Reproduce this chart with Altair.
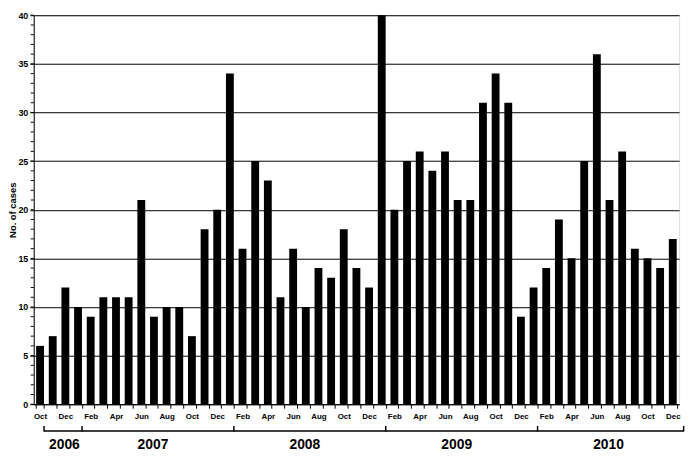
import altair as alt
import pandas as pd

month_names = ["Oct", "Nov", "Dec"] + ["Jan", "Feb", "Mar", "Apr", "May", "Jun",
                                       "Jul", "Aug", "Sep", "Oct", "Nov", "Dec"] * 4
years = [2006] * 3 + [2007] * 12 + [2008] * 12 + [2009] * 12 + [2010] * 12
cases = [6, 7, 12,
         10, 9, 11, 11, 11, 21, 9, 10, 10, 7, 18, 20,
         34, 16, 25, 23, 11, 16, 10, 14, 13, 18, 14, 12,
         40, 20, 25, 26, 24, 26, 21, 21, 31, 34, 31, 9,
         12, 14, 19, 15, 25, 36, 21, 26, 16, 15, 14, 17]
keys = [f"{m} {y}" for m, y in zip(month_names, years)]
labeled_keys = keys[::2]
year_labels = ["2006", "2007", "2008", "2009", "2010"]
year_label_anchor = ["Dec 2006", "Jul 2007", "Jul 2008", "Jul 2009", "Jul 2010"]
bracket_starts = ["Oct 2006", "Jan 2007", "Jan 2008", "Jan 2009", "Jan 2010"]
bracket_end = "Dec 2010"
major_ticks = list(range(0, 41, 5))
minor_ticks = list(range(0, 41, 1))

LEFT = 26
W, H = 652, 393
FONT = "Liberation Sans"

bars_df = pd.DataFrame({"key": keys, "cases": cases})
minor_df = pd.DataFrame({"v": minor_ticks})
line_df = pd.DataFrame({"key": [bracket_starts[0]], "key2": [bracket_end]})
start_df = pd.DataFrame({"key": bracket_starts})
end_df = pd.DataFrame({"key": [bracket_end]})
year_df = pd.DataFrame({"key": year_label_anchor, "label": year_labels})

label_list = "[" + ",".join(f"'{k}'" for k in labeled_keys) + "]"

xscale = alt.Scale(domain=keys, paddingInner=0.38, paddingOuter=0.19)
yscale = alt.Scale(domain=[0, 40], nice=False)

bars = alt.Chart(bars_df).mark_bar(color="black").encode(
    x=alt.X("key:N", scale=xscale, sort=keys, title=None,
            axis=alt.Axis(labelAngle=0, tickBand="extent", tickSize=4,
                          tickColor="black", domainColor="black",
                          labelFontSize=8, labelFontWeight="bold",
                          labelColor="black", labelPadding=4,
                          labelExpr="indexof(" + label_list + ", datum.value) >= 0 ? slice(datum.value, 0, 3) : ''")),
    y=alt.Y("cases:Q", scale=yscale, title="No. of cases",
            axis=alt.Axis(values=major_ticks, grid=True, gridColor="black",
                          gridOpacity=1, tickSize=4, tickColor="black",
                          domainColor="black", labelFontSize=9,
                          labelFontWeight="bold", labelColor="black",
                          labelPadding=2, titleFontSize=9.5,
                          titleFontWeight="bold", titleColor="black",
                          titleX=-(LEFT - 5), titleY=H / 2, titleAngle=270,
                          titleBaseline="middle", titleAlign="center")),
)

minor = alt.Chart(minor_df).mark_rule(color="black", strokeWidth=1).encode(
    y=alt.Y("v:Q", scale=yscale),
    x=alt.value(-3), x2=alt.value(0),
)

OFF = 8
hline = alt.Chart(line_df).mark_rule(color="black", strokeWidth=1.5, xOffset=OFF, x2Offset=OFF - 1).encode(
    x=alt.X("key:N", scale=xscale, sort=keys, bandPosition=0),
    x2=alt.X2("key2:N", bandPosition=1),
    y=alt.value(H + 27),
)
starts = alt.Chart(start_df).mark_rule(color="black", strokeWidth=1.5, xOffset=OFF).encode(
    x=alt.X("key:N", scale=xscale, sort=keys, bandPosition=0),
    y=alt.value(H + 22), y2=alt.value(H + 27.5),
)
ends = alt.Chart(end_df).mark_rule(color="black", strokeWidth=1.5, xOffset=OFF - 1).encode(
    x=alt.X("key:N", scale=xscale, sort=keys, bandPosition=1),
    y=alt.value(H + 22), y2=alt.value(H + 27.5),
)
ylabels = alt.Chart(year_df).mark_text(fontSize=14, fontWeight="bold", color="black",
                                       baseline="middle", align="center", xOffset=3).encode(
    x=alt.X("key:N", scale=xscale, sort=keys, bandPosition=0),
    y=alt.value(H + 41),
    text="label:N",
)

chart = alt.layer(bars, minor, hline, starts, ends, ylabels).properties(
    width=W, height=H,
    autosize=alt.AutoSizeParams(type="none"),
    padding={"left": LEFT, "top": 5, "right": 10, "bottom": 50},
    background="white",
).configure_view(stroke="#888888", strokeWidth=1).configure(font=FONT)

chart.save("out.html", embed_options={"renderer": "svg", "actions": False})
